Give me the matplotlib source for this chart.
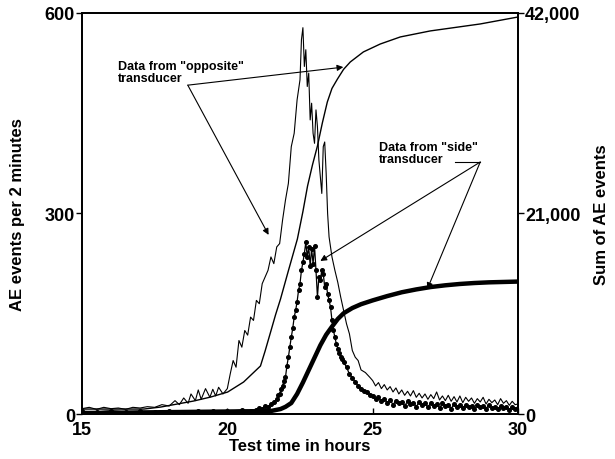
import matplotlib
matplotlib.use("Agg")
import matplotlib.pyplot as plt
import numpy as np

plt.rcParams['font.family'] = ['Liberation Sans', 'DejaVu Sans']
plt.rcParams['font.weight'] = 'bold'

# AE events per 2 minutes, "opposite" transducer (thin line)
opp_t = [15.0, 15.25, 15.5, 15.75, 16.0, 16.25, 16.5, 16.75, 17.0, 17.25, 17.5, 17.75,
         18.0, 18.2, 18.35, 18.5, 18.65, 18.75, 18.9, 19.0, 19.1, 19.25, 19.4, 19.5,
         19.6, 19.7, 19.85, 20.0, 20.1,
         20.2, 20.3, 20.4, 20.5, 20.6, 20.7, 20.8, 20.9, 21.0, 21.1, 21.2, 21.3, 21.4,
         21.5, 21.6, 21.7, 21.8, 21.9, 22.0, 22.1, 22.2, 22.3, 22.4, 22.5, 22.55, 22.6,
         22.65, 22.7, 22.75, 22.8, 22.85, 22.9, 22.95, 23.0, 23.05, 23.1, 23.15, 23.2,
         23.25, 23.3, 23.35, 23.4, 23.45, 23.5, 23.6, 23.7, 23.8, 23.9, 24.0, 24.1,
         24.2, 24.3, 24.4, 24.5, 24.6, 24.75, 24.9] + list(np.round(np.arange(25.0, 30.01, 0.1), 1))
opp_v = [8, 10, 7, 10, 8, 9, 7, 10, 9, 11, 10, 14,
         12, 20, 14, 24, 16, 30, 20, 36, 22, 38, 25, 37,
         27, 40, 30, 38, 60,
         80, 70, 110, 100, 125, 118, 145, 140, 170, 165, 195, 205, 215,
         235, 225, 250, 255, 290, 320, 345, 400, 420, 470, 500, 560, 578,
         520, 545, 490, 510, 440, 465, 420, 405, 455, 430, 380, 355,
         330, 400, 407, 360, 300, 265, 235, 215, 197, 175, 155, 135,
         120, 95, 85, 80, 66, 62, 55,
         50, 42, 47, 38, 44, 36, 41, 33, 39, 30, 36, 28, 34, 27, 35, 25, 31,
         24, 30, 22, 29, 23, 33, 21, 27, 20, 28, 19, 26, 18, 27, 17, 25, 19,
         24, 16, 23, 18, 25, 15, 22, 17, 21, 14, 23, 16, 20, 13, 19, 14, 15]

# AE events per 2 minutes, "side" transducer (line with dots)
side_t = [15.0, 15.5, 16.0, 16.5, 17.0, 17.5, 18.0, 18.5, 19.0, 19.5, 20.0, 20.5,
          20.8, 21.0, 21.1, 21.2, 21.3, 21.4, 21.5, 21.6, 21.7, 21.75, 21.8, 21.85,
          21.9, 21.95, 22.0, 22.05, 22.1, 22.15, 22.2, 22.25, 22.3, 22.35, 22.4, 22.45,
          22.5, 22.55, 22.6, 22.65, 22.7, 22.75, 22.8, 22.85, 22.9, 22.95, 23.0,
          23.05, 23.1, 23.15, 23.2, 23.25, 23.3, 23.35, 23.4, 23.45, 23.5, 23.55, 23.6,
          23.65, 23.7, 23.75, 23.8, 23.85, 23.9, 23.95, 24.0, 24.1, 24.2, 24.3, 24.4,
          24.5, 24.6, 24.7, 24.8, 24.9] + list(np.round(np.arange(25.0, 30.01, 0.1), 1))
side_v = [4, 3, 5, 3, 4, 3, 5, 3, 4, 5, 4, 6,
          5, 6, 9, 8, 12, 10, 15, 18, 22, 28, 30, 38,
          42, 50, 55, 72, 85, 100, 115, 128, 145, 155, 168, 185,
          195, 215, 227, 240, 257, 235, 250, 222, 247, 225, 251,
          215, 175, 205, 200, 215, 210, 190, 195, 180, 170, 160, 140,
          125, 115, 105, 98, 92, 86, 82, 78, 70, 60, 54, 48,
          42, 38, 35, 33, 29,
          27, 22, 25, 19, 23, 17, 21, 14, 20, 16, 18, 12, 19, 15, 17, 11, 18,
          13, 16, 10, 17, 12, 15, 9, 16, 12, 14, 8, 15, 11, 13, 9, 14, 10,
          12, 7, 13, 10, 12, 8, 14, 9, 11, 7, 12, 9, 11, 6, 10, 8, 9]

# Sum of AE events
cum_opp_t = [15.0, 17.13, 17.71, 18.84, 19.43, 20.01, 20.56, 21.14, 21.3, 21.49,
             21.66, 21.83, 22.1, 22.41, 22.6, 22.76, 22.93, 23.10, 23.27, 23.44,
             23.6, 23.79, 24.0, 24.23, 24.68, 25.26, 25.95, 26.98, 28.70, 30.0]
cum_opp_v = [520, 520, 730, 1360, 1780, 2300, 3350, 5030, 6600, 8600,
             10400, 12045, 15000, 18330, 21200, 23880, 26100, 28070, 30500, 32680,
             34100, 35090, 36100, 36870, 37920, 38750, 39490, 40120, 40850, 41580]
cum_side_t = [15.0, 21.49, 21.83, 22.0, 22.2, 22.4, 22.6, 22.8, 23.0, 23.2,
              23.4, 23.6, 23.8, 24.0, 24.3, 24.6, 25.0, 25.5, 26.0, 26.5,
              27.0, 27.5, 28.0, 28.5, 29.0, 29.5, 30.0]
cum_side_v = [100, 310, 520, 750, 1150, 2100, 3300, 4600, 5900, 7200,
              8300, 9150, 9950, 10550, 11100, 11500, 11900, 12350, 12750, 13050,
              13300, 13480, 13620, 13720, 13790, 13830, 13870]

fig = plt.figure(figsize=(6.15, 4.6), dpi=100, facecolor='white')
ax = fig.add_axes([0.1333, 0.0978, 0.7090, 0.8718])
ax2 = ax.twinx()

ax.plot(opp_t, opp_v, color='black', lw=0.8)
ax.plot(side_t, side_v, color='black', lw=0.9, marker='o', ms=2.6)
ax2.plot(cum_opp_t, cum_opp_v, color='black', lw=1.0)
ax2.plot(cum_side_t, cum_side_v, color='black', lw=3.2, solid_capstyle='round')

ax.set_xlim(15, 30)
ax.set_ylim(0, 600)
ax2.set_ylim(0, 42000)
ax.set_xticks([15, 20, 25, 30])
ax.set_yticks([0, 300, 600])
ax2.set_yticks([0, 21000, 42000])
ax2.set_yticklabels(['0', '21,000', '42,000'])

ax.tick_params(axis='x', direction='in', length=4, width=1, labelsize=13, pad=5)
ax.tick_params(axis='y', direction='out', length=4, width=1, labelsize=13, pad=1)
ax2.tick_params(axis='y', direction='out', length=4, width=1, labelsize=13, pad=1)
for a in (ax, ax2):
    for s in a.spines.values():
        s.set_linewidth(1.3)

ax.set_xlabel('Test time in hours', fontsize=12, fontweight='bold', labelpad=0)
ax.set_ylabel('AE events per 2 minutes', fontsize=12, fontweight='bold', labelpad=14)
ax2.set_ylabel('Sum of AE events', fontsize=12, fontweight='bold', labelpad=10)

arrow = dict(arrowstyle='-|>', color='black', lw=0.8, mutation_scale=9,
             shrinkA=0, shrinkB=0)

# "opposite" label and its two arrows
ax.text(16.24, 530, 'Data from "opposite"\ntransducer', fontsize=9,
        fontweight='bold', va='top', ha='left', linespacing=1.0)
ax.annotate('', xy=(23.99, 519), xytext=(18.64, 492), arrowprops=arrow)
ax.annotate('', xy=(21.42, 268), xytext=(18.64, 492), arrowprops=arrow)

# "side" label and its two arrows
ax.text(25.23, 409, 'Data from "side"\ntransducer', fontsize=9,
        fontweight='bold', va='top', ha='left', linespacing=1.0)
ax.plot([27.84, 28.70], [377, 377], color='black', lw=0.8)
ax.annotate('', xy=(23.2, 229), xytext=(28.70, 377), arrowprops=arrow)
ax.annotate('', xy=(26.88, 187), xytext=(28.70, 377), arrowprops=arrow)

plt.savefig('out.png', dpi=100, facecolor='white')
